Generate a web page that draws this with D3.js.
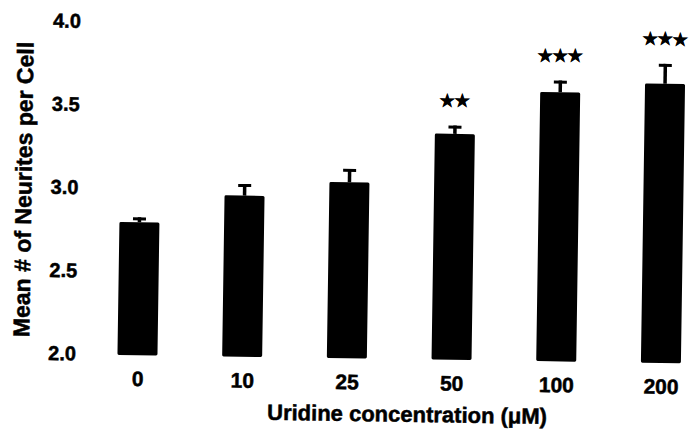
<!DOCTYPE html>
<html>
<head>
<meta charset="utf-8">
<script src="https://cdn.jsdelivr.net/npm/d3@7"></script>
<style>
  html, body { margin: 0; padding: 0; background: #fff; }
  svg { display: block; }
  text { font-family: "Liberation Sans", Arial, Helvetica, sans-serif; font-weight: bold; fill: #000; stroke: #000; stroke-width: 0.5; }
</style>
</head>
<body>
<svg id="chart" width="689" height="433"></svg>
<script>
// Uridine dose–response: mean neurites per cell (bars) with SEM (upper whiskers)
const concentrations = ["0", "10", "25", "50", "100", "200"];
const meanNeurites   = [2.79, 2.96, 3.05, 3.35, 3.61, 3.67];
const upperError     = [2.82, 3.03, 3.13, 3.40, 3.68, 3.79];
const significance   = ["", "", "", "**", "***", "***"];
const yTicks         = [2.0, 2.5, 3.0, 3.5, 4.0];

const svg = d3.select("#chart");
const W = 689, H = 433;

svg.append("rect").attr("width", W).attr("height", H).attr("fill", "#fff");

// The whole figure sits slightly tilted clockwise
const g = svg.append("g").attr("transform", "rotate(0.85, 60, 352)");

const y = d3.scaleLinear().domain([2, 4]).range([352.5, 20]);
const x = d3.scalePoint().domain(concentrations).range([137.5, 661]);
const barW = 40;

const rows = concentrations.map((c, i) => ({
  c, mean: meanNeurites[i], err: upperError[i], sig: significance[i]
}));

// y tick labels (no axis line drawn)
const yAxis = d3.axisLeft(y).tickValues(yTicks).tickFormat(d3.format(".1f")).tickSize(0).tickPadding(0);
const yG = g.append("g").attr("transform", "translate(76,0)").call(yAxis);
yG.select(".domain").remove();
yG.selectAll("text")
  .attr("font-size", 20)
  .attr("font-family", null)
  .attr("dy", "0.36em");

// x tick labels
const xAxis = d3.axisBottom(x).tickSize(0).tickPadding(0);
const xG = g.append("g").attr("transform", "translate(0,370)").call(xAxis);
xG.select(".domain").remove();
xG.selectAll("text")
  .attr("font-size", 21)
  .attr("font-family", null)
  .attr("dy", "0.71em");

// error whiskers (upper only)
const eb = g.append("g");
eb.selectAll("line.stem").data(rows).join("line")
  .attr("class", "stem")
  .attr("x1", d => x(d.c)).attr("x2", d => x(d.c))
  .attr("y1", d => y(d.mean)).attr("y2", d => y(d.err))
  .attr("stroke", "#000").attr("stroke-width", 3.5);
eb.selectAll("line.cap").data(rows).join("line")
  .attr("class", "cap")
  .attr("x1", d => x(d.c) - 6.5).attr("x2", d => x(d.c) + 6.5)
  .attr("y1", d => y(d.err) + 1.5).attr("y2", d => y(d.err) + 1.5)
  .attr("stroke", "#000").attr("stroke-width", 3);

// bars
g.append("g").selectAll("rect").data(rows).join("rect")
  .attr("x", d => x(d.c) - barW / 2)
  .attr("width", barW)
  .attr("y", d => y(d.mean))
  .attr("height", d => y(2) - y(d.mean) + 1.5)
  .attr("fill", "#000")
  .attr("rx", 1.5);

// significance stars
g.append("g").selectAll("text").data(rows.filter(d => d.sig)).join("text")
  .attr("x", d => x(d.c))
  .attr("y", d => y(d.err) - 25)
  .attr("text-anchor", "middle")
  .attr("dy", "0.35em")
  .attr("font-family", "DejaVu Sans, sans-serif")
  .attr("font-size", 16)
  .attr("letter-spacing", 1)
  .attr("stroke-width", 1)
  .text(d => d.sig.replace(/\*/g, "\u2605"));

// axis titles
g.append("text")
  .attr("x", 408).attr("y", 409)
  .attr("text-anchor", "middle")
  .attr("dy", "0.35em")
  .attr("font-size", 22)
  .text("Uridine concentration (\u03BCM)");

g.append("text")
  .attr("transform", "translate(21,190) rotate(-90)")
  .attr("text-anchor", "middle")
  .attr("dy", "0.35em")
  .attr("font-size", 23)
  .text("Mean # of Neurites per Cell");
</script>
</body>
</html>
